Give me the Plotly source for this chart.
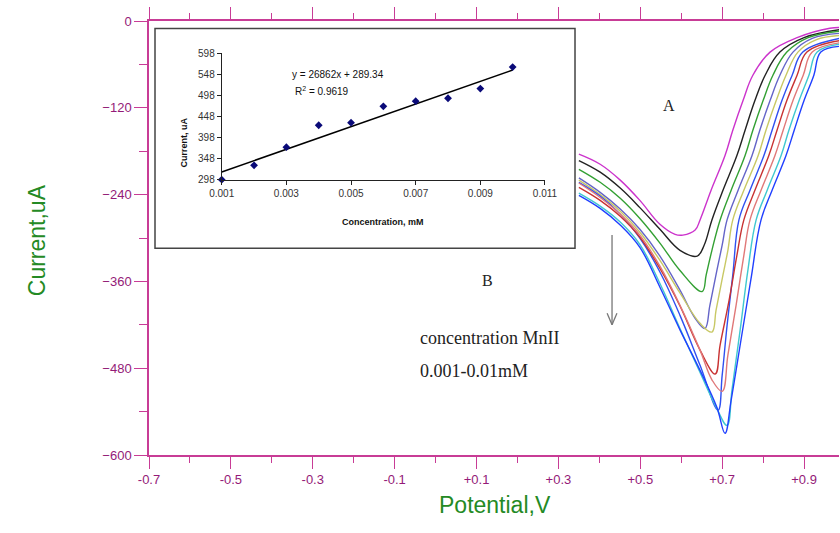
import plotly.graph_objects as go

# ---------------- main DPV curves (Potential V, Current uA) ----------------
curve_colors = ["#cc33cc", "#222222", "#33a033", "#6464c8", "#c8c864",
                "#3050f0", "#c83232", "#e07878", "#40c8d0", "#2040ff"]

v_magenta = [0.350, 0.402, 0.451, 0.499, 0.548, 0.585, 0.604, 0.634, 0.646, 0.673, 0.707, 0.726, 0.751, 0.775, 0.817, 0.883, 0.963, 0.988]
i_magenta = [-184, -198, -220, -248, -281, -295, -296, -289, -275, -234, -186, -151, -110, -75, -43, -23, -10, -9]

v_black = [0.350, 0.402, 0.451, 0.499, 0.548, 0.597, 0.639, 0.656, 0.675, 0.702, 0.736, 0.756, 0.780, 0.805, 0.841, 0.900, 0.988]
i_black = [-193, -209, -231, -258, -288, -317, -325, -310, -275, -234, -186, -151, -110, -75, -43, -23, -12]

v_green = [0.350, 0.402, 0.451, 0.499, 0.548, 0.597, 0.651, 0.661, 0.675, 0.695, 0.722, 0.756, 0.775, 0.800, 0.824, 0.858, 0.910, 0.988]
i_green = [-205, -223, -245, -273, -307, -345, -374, -351, -317, -275, -234, -186, -151, -110, -75, -43, -23, -14]

v_slate = [0.350, 0.402, 0.451, 0.499, 0.548, 0.597, 0.634, 0.658, 0.670, 0.687, 0.700, 0.712, 0.739, 0.773, 0.792, 0.817, 0.841, 0.873, 0.920, 0.988]
i_slate = [-217, -237, -260, -288, -325, -372, -411, -425, -393, -345, -310, -275, -234, -186, -151, -110, -75, -43, -24, -17]

v_yellow = [0.350, 0.402, 0.451, 0.499, 0.548, 0.597, 0.646, 0.675, 0.685, 0.702, 0.714, 0.726, 0.753, 0.788, 0.807, 0.832, 0.856, 0.885, 0.929, 0.988]
i_yellow = [-220, -240, -263, -292, -331, -376, -418, -430, -400, -351, -317, -275, -234, -186, -151, -110, -75, -43, -26, -20]

v_royal = [0.350, 0.402, 0.451, 0.499, 0.548, 0.597, 0.646, 0.690, 0.700, 0.712, 0.726, 0.741, 0.768, 0.802, 0.822, 0.846, 0.871, 0.897, 0.988]
i_royal = [-223, -242, -267, -300, -347, -407, -476, -538, -490, -421, -351, -275, -234, -186, -151, -110, -75, -43, -24]

v_red = [0.350, 0.402, 0.451, 0.499, 0.548, 0.597, 0.646, 0.683, 0.695, 0.717, 0.736, 0.753, 0.780, 0.814, 0.834, 0.858, 0.883, 0.907, 0.988]
i_red = [-230, -248, -270, -299, -342, -394, -455, -488, -448, -386, -324, -275, -234, -186, -151, -110, -75, -43, -27]

v_salmon = [0.350, 0.402, 0.451, 0.499, 0.548, 0.597, 0.646, 0.675, 0.700, 0.714, 0.734, 0.753, 0.768, 0.795, 0.829, 0.849, 0.873, 0.898, 0.920, 0.988]
i_salmon = [-224, -244, -267, -296, -339, -393, -455, -496, -512, -462, -393, -324, -275, -234, -186, -151, -110, -75, -43, -30]

v_cyan = [0.350, 0.402, 0.451, 0.499, 0.548, 0.597, 0.646, 0.683, 0.712, 0.724, 0.744, 0.763, 0.783, 0.810, 0.844, 0.863, 0.888, 0.912, 0.932, 0.988]
i_cyan = [-238, -256, -278, -309, -363, -425, -486, -531, -559, -510, -427, -344, -275, -234, -186, -151, -110, -75, -43, -32]

v_blue = [0.350, 0.402, 0.451, 0.499, 0.548, 0.597, 0.646, 0.687, 0.707, 0.722, 0.746, 0.770, 0.795, 0.822, 0.856, 0.876, 0.900, 0.924, 0.941, 0.988]
i_blue = [-241, -259, -282, -313, -368, -427, -483, -534, -570, -524, -441, -358, -275, -234, -186, -151, -110, -75, -43, -35]

curves_v = [v_magenta, v_black, v_green, v_slate, v_yellow, v_royal, v_red, v_salmon, v_cyan, v_blue]
curves_i = [i_magenta, i_black, i_green, i_slate, i_yellow, i_royal, i_red, i_salmon, i_cyan, i_blue]

x_range = [-0.7, 0.9854]
x_tickvals = [-0.7, -0.5, -0.3, -0.1, 0.1, 0.3, 0.5, 0.7, 0.9]
x_ticktext = ["-0.7", "-0.5", "-0.3", "-0.1", "+0.1", "+0.3", "+0.5", "+0.7", "+0.9"]
x_minor = [-0.6, -0.4, -0.2, 0.0, 0.2, 0.4, 0.6, 0.8]
y_tickvals = [0, -120, -240, -360, -480, -600]
y_minor = [-60, -180, -300, -420, -540]

# ---------------- inset calibration ----------------
conc = [0.001, 0.002, 0.003, 0.004, 0.005, 0.006, 0.007, 0.008, 0.009, 0.010]
cur = [298, 332, 375, 427, 433, 472, 484, 491, 514, 565]
slope = 26862
intercept = 289.34
inset_xticks = [0.001, 0.003, 0.005, 0.007, 0.009, 0.011]
inset_yticks = [298, 348, 398, 448, 498, 548, 598]

# arrow marker (concentration direction), in data units
arrow_x = 0.431
arrow_top = -296
arrow_bottom = -420

AX = "#c83c96"
TICKTXT = "#941a78"
GREEN = "#248a24"

fig = go.Figure()
for v, i, c in zip(curves_v, curves_i, curve_colors):
    fig.add_trace(go.Scatter(x=v, y=i, mode="lines", xaxis="x", yaxis="y",
                             line=dict(color=c, width=1.4, shape="spline", smoothing=1.1),
                             showlegend=False, hoverinfo="skip"))

fig.add_trace(go.Scatter(x=[conc[0], conc[-1]],
                         y=[slope * conc[0] + intercept, slope * conc[-1] + intercept],
                         mode="lines", xaxis="x2", yaxis="y2",
                         line=dict(color="black", width=1.5), showlegend=False))
fig.add_trace(go.Scatter(x=conc, y=cur, mode="markers", xaxis="x2", yaxis="y2",
                         marker=dict(symbol="diamond", size=6, color="#0a0a78"),
                         cliponaxis=False, showlegend=False))

fig.update_layout(
    width=840, height=533,
    margin=dict(l=149, r=1, t=21, b=78, autoexpand=False),
    paper_bgcolor="white", plot_bgcolor="rgba(0,0,0,0)",
    font=dict(family="Liberation Sans, Arial", size=13, color=TICKTXT),
    xaxis=dict(range=x_range, domain=[0, 1], tickmode="array", tickvals=x_tickvals, ticktext=x_ticktext,
               ticks="outside", ticklen=12, tickwidth=1.2, tickcolor=AX, showline=True, linecolor=AX,
               linewidth=1.5, mirror="ticks", showgrid=False, zeroline=False, automargin=False,
               tickfont=dict(size=13, color=TICKTXT),
               minor=dict(tickvals=x_minor, ticks="outside", ticklen=6, tickcolor=AX, tickwidth=1.2)),
    yaxis=dict(range=[-600, 0], domain=[0, 1], tickmode="array", tickvals=y_tickvals,
               ticks="outside", ticklen=13, tickwidth=1.2, tickcolor=AX, showline=True, linecolor=AX,
               linewidth=1.5, showgrid=False, zeroline=False, automargin=False,
               tickfont=dict(size=13, color=TICKTXT),
               minor=dict(tickvals=y_minor, ticks="outside", ticklen=8, tickcolor=AX, tickwidth=1.2)),
    xaxis2=dict(domain=[0.1054, 0.5739], anchor="y2", range=[0.001, 0.011], tickmode="array",
                tickvals=inset_xticks, ticktext=["0.001", "0.003", "0.005", "0.007", "0.009", "0.011"],
                ticks="outside", ticklen=4, tickcolor="#222", showline=True, linecolor="#222", linewidth=1,
                showgrid=False, zeroline=False, tickfont=dict(size=10, color="#333")),
    yaxis2=dict(domain=[0.6345, 0.9259], anchor="x2", range=[298, 598], tickmode="array",
                tickvals=inset_yticks, ticks="outside", ticklen=4, tickcolor="#222", showline=True,
                linecolor="#222", linewidth=1, showgrid=False, zeroline=False,
                tickfont=dict(size=10, color="#333")),
    shapes=[
        dict(type="rect", xref="paper", yref="paper", x0=0.0087, x1=0.6174, y0=0.4764, y1=0.9827,
             line=dict(color="#444", width=1.5), fillcolor="white", layer="below"),
        dict(type="line", xref="x", yref="y", x0=arrow_x, x1=arrow_x, y0=arrow_top, y1=arrow_bottom,
             line=dict(color="#777", width=1.3)),
        dict(type="line", xref="x", yref="y", x0=arrow_x - 0.012, x1=arrow_x, y0=arrow_bottom + 16,
             y1=arrow_bottom, line=dict(color="#777", width=1.3)),
        dict(type="line", xref="x", yref="y", x0=arrow_x + 0.012, x1=arrow_x, y0=arrow_bottom + 16,
             y1=arrow_bottom, line=dict(color="#777", width=1.3)),
    ],
)

ann = [
    dict(text="Current,uA", xref="paper", yref="paper", x=-0.184, y=0.495, textangle=-90,
         font=dict(size=23, color=GREEN, family="Liberation Sans, Arial")),
    dict(text="Potential,V", xref="paper", yref="paper", x=0.5014, y=-0.150,
         font=dict(size=23, color=GREEN, family="Liberation Sans, Arial")),
    dict(text="y = 26862x + 289.34", xref="paper", yref="paper", x=0.2043, y=0.893,
         font=dict(size=10, color="#111")),
    dict(text="R<sup>2</sup> = 0.9619", xref="paper", yref="paper", x=0.2087, y=0.856,
         font=dict(size=10, color="#111")),
    dict(text="<b>Current, uA</b>", xref="paper", yref="paper", x=0.0406, y=0.7825, textangle=-90,
         font=dict(size=9, color="#111")),
    dict(text="<b>Concentration, mM</b>", xref="paper", yref="paper", x=0.3391, y=0.537,
         font=dict(size=9, color="#111")),
    dict(text="A", xref="paper", yref="paper", x=0.7652, y=0.8285,
         font=dict(size=16, color="#222", family="Liberation Serif, Times New Roman")),
    dict(text="B", xref="paper", yref="paper", x=0.4899, y=0.4028,
         font=dict(size=16, color="#222", family="Liberation Serif, Times New Roman")),
    dict(text="concentration MnII", xref="paper", yref="paper", x=0.3899, y=0.2417, xanchor="left",
         font=dict(size=18, color="#222", family="Liberation Serif, Times New Roman")),
    dict(text="0.001-0.01mM", xref="paper", yref="paper", x=0.3899, y=0.1657, xanchor="left",
         font=dict(size=18, color="#222", family="Liberation Serif, Times New Roman")),
]
for a in ann:
    a["showarrow"] = False
    fig.add_annotation(**a)

fig.write_html("out.html", config={"displayModeBar": False},
               post_script="document.body.style.margin='0px';document.body.style.overflow='hidden';")
